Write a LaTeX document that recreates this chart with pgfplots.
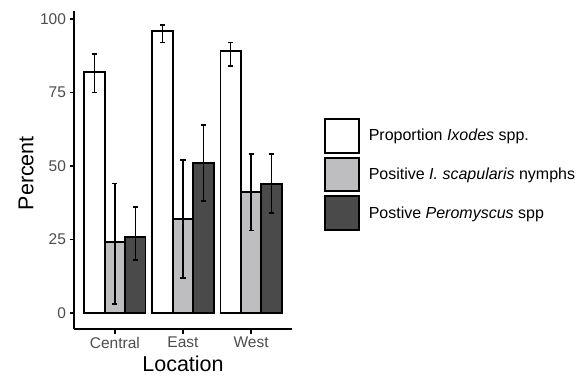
\documentclass[border=0pt]{standalone}
\usepackage{pgfplots}
\pgfplotsset{compat=1.18}
\usepackage{fontspec}
\setmainfont{Liberation Sans}
\definecolor{lgrey}{RGB}{190,190,192}
\definecolor{dgrey}{RGB}{74,74,74}
\definecolor{tickgrey}{RGB}{77,77,77}
\begin{document}
\begin{tikzpicture}
\begin{axis}[
  at={(74pt,47pt)}, anchor=south west,
  scale only axis, width=218pt, height=318pt,
  xmin=0.4, xmax=3.6, ymin=-5.44, ymax=102.7,
  axis x line*=bottom, axis y line*=left,
  axis line style={line width=1.5pt, -},
  xtick={1,2,3}, xticklabels={Central,East,West},
  ytick={0,25,50,75,100},
  tick align=outside, major tick length=4.5pt,
  tick style={black, line width=1.3pt},
  ticklabel style={font=\fontsize{15.5}{18}\selectfont, text=tickgrey},
  /pgf/number format/assume math mode=true,
  xlabel={Location}, ylabel={Percent},
  label style={font=\fontsize{21.5}{25}\selectfont},
  xlabel style={at={(axis description cs:0.5,-0.11)}, anchor=center},
  ylabel style={at={(axis description cs:-0.22,0.49)}, anchor=center},
  ybar, bar width=0.3,
  every axis plot/.append style={draw=black, line width=1.9pt},
  error bars/y dir=both, error bars/y explicit,
  error bars/error bar style={black, line width=1.6pt},
  error bars/error mark options={black, line width=1.6pt, mark size=2.6pt, rotate=90},
  legend style={at={(axis description cs:1.145,0.486)}, anchor=west, draw=none, fill=none, inner sep=0pt,
    row sep=3.1pt, font=\fontsize{16}{19}\selectfont},
  legend cell align=left,
  legend image code/.code={\draw[#1, line width=1.9pt] (0pt,-16.8pt) rectangle (34.5pt,16.8pt); \path[draw=none, fill=none] (0pt,0pt) -- (42pt,0pt);},
]
\addplot[fill=white, bar shift=-0.3] coordinates {
  (1,82) += (0,6) -= (0,7)
  (2,96) += (0,2) -= (0,4)
  (3,89) += (0,3) -= (0,5)
};
\addplot[fill=lgrey, bar shift=0] coordinates {
  (1,24) += (0,20) -= (0,21)
  (2,32) += (0,20) -= (0,20)
  (3,41) += (0,13) -= (0,13)
};
\addplot[fill=dgrey, bar shift=0.3] coordinates {
  (1,26) += (0,10) -= (0,8)
  (2,51) += (0,13) -= (0,13)
  (3,44) += (0,10) -= (0,10)
};
\legend{Proportion \textit{Ixodes} spp., Positive \textit{I. scapularis} nymphs, Postive \textit{Peromyscus} spp}
\end{axis}
\pgfresetboundingbox
\useasboundingbox (0,0) rectangle (580pt,376pt);
\end{tikzpicture}
\end{document}
